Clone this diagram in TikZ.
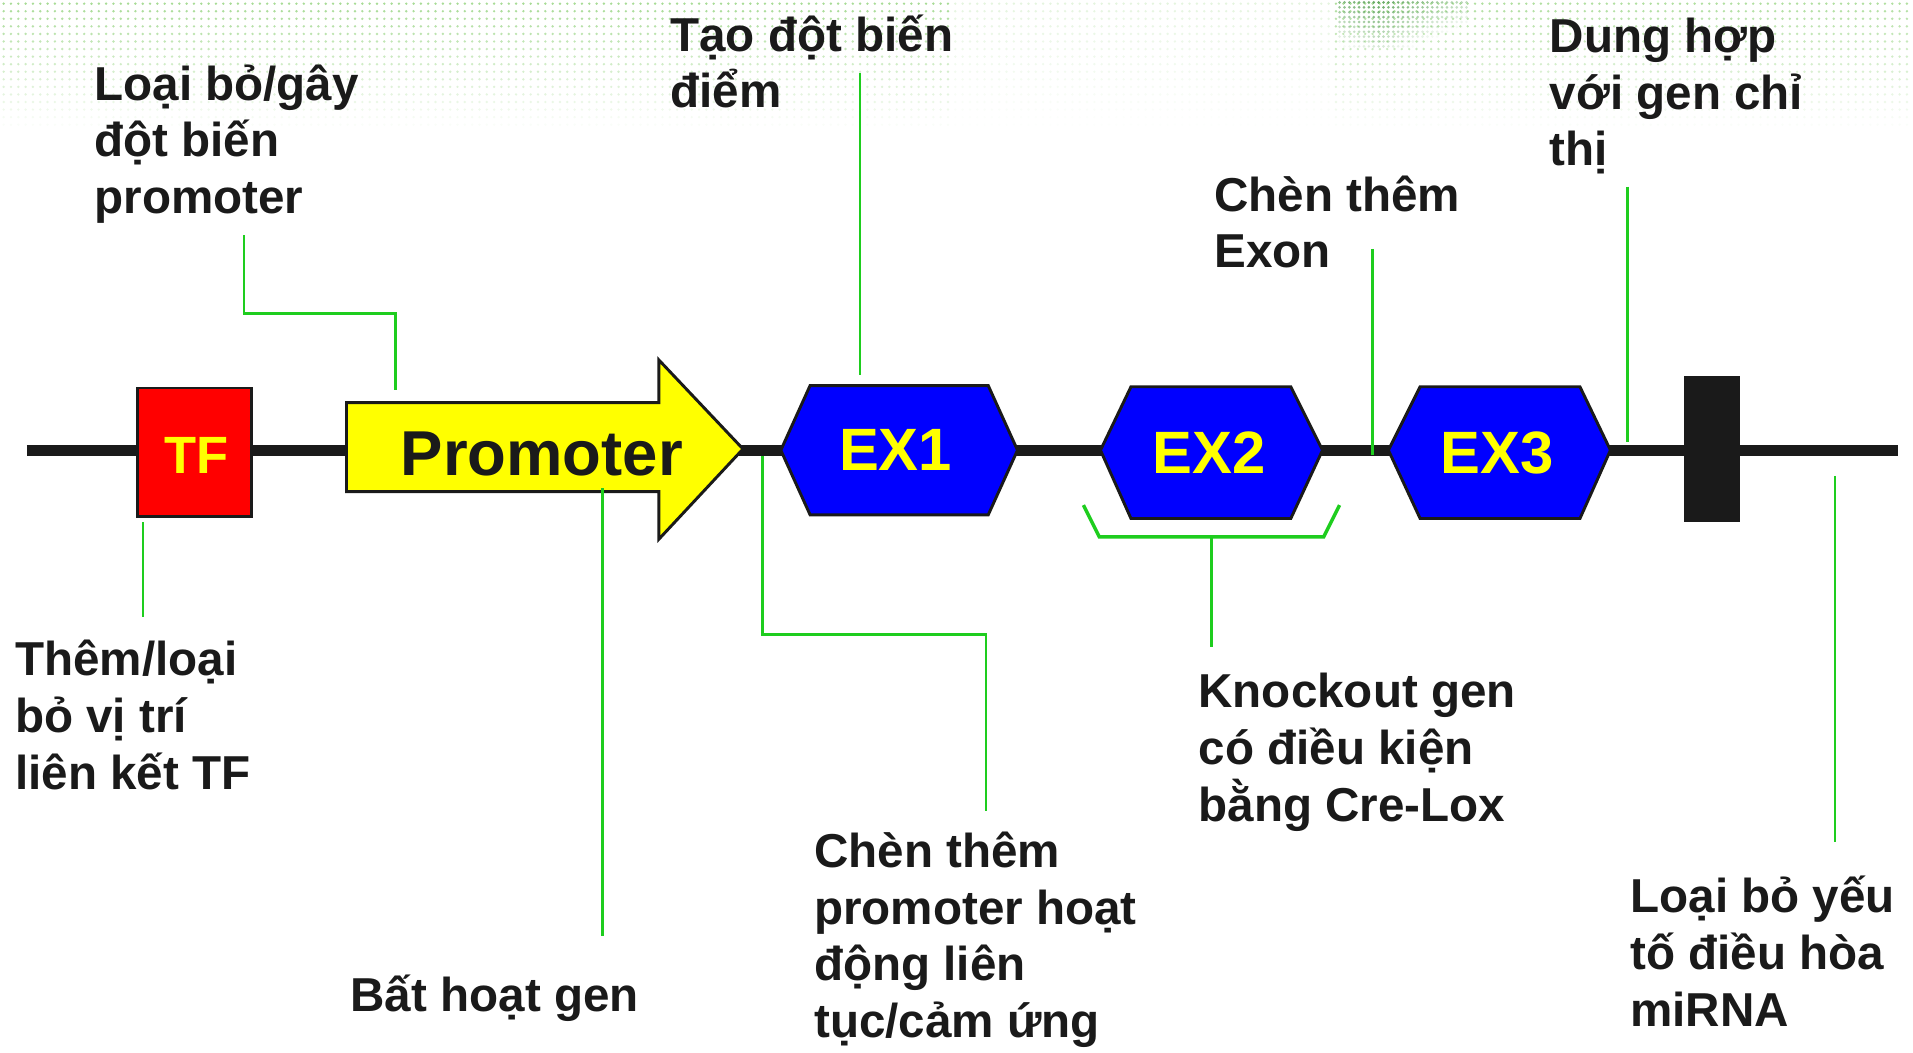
\documentclass[tikz,border=0pt]{standalone}
\usepackage{fontspec}
\setmainfont{Liberation Sans}
\usepackage{tikz}

\definecolor{dnagray}{RGB}{26,26,26}
\definecolor{leadgreen}{RGB}{30,205,30}
\definecolor{dotgreen}{RGB}{110,195,80}
\definecolor{darkdot}{RGB}{50,140,45}
\definecolor{exblue}{RGB}{0,0,255}
\definecolor{tfred}{RGB}{255,0,0}
\definecolor{txtyellow}{RGB}{255,255,0}

\tikzset{
  lbl/.style={anchor=base west,inner sep=0pt,align=left,text=dnagray,
    font=\bfseries\fontsize{19.5}{23.25}\selectfont},
  lead/.style={draw=leadgreen,line width=1pt},
  part/.style={draw=dnagray,line width=1.2pt,line join=miter},
  partlbl/.style={inner sep=0pt,font=\bfseries},
}

\begin{document}
\begin{tikzpicture}[x=0.5pt,y=0.5pt,yscale=-1,xscale=1]
\useasboundingbox (0,0) rectangle (1568,863);

% halftone band along the top
\foreach \r in {0,...,16}{
  \pgfmathsetmacro\yy{3+6.2*\r}
  \foreach \c in {0,...,260}{
    \pgfmathsetmacro\xx{3+6*\c}
    \pgfmathsetmacro\op{0.6*(1-\r/17)*(\xx<780 ? 1 : (\xx<1090 ? 0.3 : 0.9))}
    \fill[dotgreen,opacity=\op] (\xx,\yy) circle[radius=1.1];
  }
}
% darker patch
\foreach \r in {0,...,9}{
  \foreach \c in {0,...,26}{
    \pgfmathsetmacro\xx{1098+4*\c}
    \pgfmathsetmacro\op{max(0,0.75-0.06*\r-0.025*abs(\c-8))}
    \fill[darkdot,opacity=\op] (\xx,2+4*\r) circle[radius=1.2];
  }
}

% DNA strand
\draw[dnagray,line width=4.5pt] (22,369) -- (1556,369);

% TF site
\draw[part,fill=tfred] (113,318) rectangle (206,423);
\node[partlbl,text=txtyellow,font=\bfseries\fontsize{21.5}{24}\selectfont] (tf) at (161,373) {TF};

% promoter arrow
\draw[part,fill=txtyellow] (284,330) -- (540,330) -- (540,295) -- (609,368) -- (540,442) -- (540,403) -- (284,403) -- cycle;
\node[partlbl,text=dnagray,font=\bfseries\fontsize{26}{30}\selectfont] (prom) at (444,372) {Promoter};

% exons
\draw[part,fill=exblue] (640,369) -- (664,316) -- (810,316) -- (834,369) -- (810,422) -- (664,422) -- cycle;
\draw[part,fill=exblue] (902,369) -- (927,317) -- (1058,317) -- (1084,369) -- (1058,425) -- (927,425) -- cycle;
\draw[part,fill=exblue] (1138,369) -- (1164,317) -- (1295,317) -- (1320,369) -- (1295,425) -- (1164,425) -- cycle;
\node[partlbl,text=txtyellow,font=\bfseries\fontsize{24.5}{28}\selectfont] (ex1) at (734,369) {EX1};
\node[partlbl,text=txtyellow,font=\bfseries\fontsize{24.5}{28}\selectfont] (ex2) at (991,371) {EX2};
\node[partlbl,text=txtyellow,font=\bfseries\fontsize{24.5}{28}\selectfont] (ex3) at (1227,371) {EX3};

% 3' element
\fill[dnagray] (1380,308) rectangle (1426,428);

% labels (placed at the baseline of their last line)
\node[lbl] (lPromDel) at (77,175) {Loại bỏ/gây\\đột biến\\promoter};
\node[lbl] (lPoint) at (549,88.5) {Tạo đột biến\\điểm};
\node[lbl] (lExon) at (995,219.5) {Chèn thêm\\Exon};
\node[lbl] (lFuse) at (1270,136) {Dung hợp\\với gen chỉ\\thị};
\node[lbl] (lTF) at (12,647) {Thêm/loại\\bỏ vị trí\\liên kết TF};
\node[lbl] (lInact) at (287,829) {Bất hoạt gen};
\node[lbl] (lConst) at (667,850.5) {Chèn thêm\\promoter hoạt\\động liên\\tục/cảm ứng};
\node[lbl] (lKO) at (982,673) {Knockout gen\\có điều kiện\\bằng Cre-Lox};
\node[lbl] (lMir) at (1336,841) {Loại bỏ yếu\\tố điều hòa\\miRNA};

% leader line ends
\coordinate (tfA) at (117,428);   \coordinate (tfB) at (117,506);
\coordinate (pdA) at (200,193);   \coordinate (pdB) at (324,320);
\coordinate (ptA) at (705,60);    \coordinate (ptB) at (705,307);
\coordinate (exA) at (1125,204);  \coordinate (exB) at (1125,373);
\coordinate (fuA) at (1334,153);  \coordinate (fuB) at (1334,362);
\coordinate (inA) at (494,400);   \coordinate (inB) at (494,767);
\coordinate (coA) at (625,374);   \coordinate (coB) at (808,665);
\coordinate (koL) at (888,414);   \coordinate (koR) at (1098,414);
\coordinate (koB) at (993,530);
\coordinate (miA) at (1504,390);  \coordinate (miB) at (1504,690);

% leader lines
\draw[lead] (tfA) -- (tfB);
\draw[lead] (pdA) -- (pdA |- 0,257) -- (pdB |- 0,257) -- (pdB);
\draw[lead] (ptA) -- (ptB);
\draw[lead] (exA) -- (exB);
\draw[lead] (fuA) -- (fuB);
\draw[lead] (inA) -- (inB);
\draw[lead] (coA) -- (coA |- 0,520) -- (coB |- 0,520) -- (coB);
\draw[lead,line width=1.4pt] (koL) -- (901,440) -- (1085,440) -- (koR);
\draw[lead] (koB |- 0,440) -- (koB);
\draw[lead] (miA) -- (miB);
\end{tikzpicture}
\end{document}
